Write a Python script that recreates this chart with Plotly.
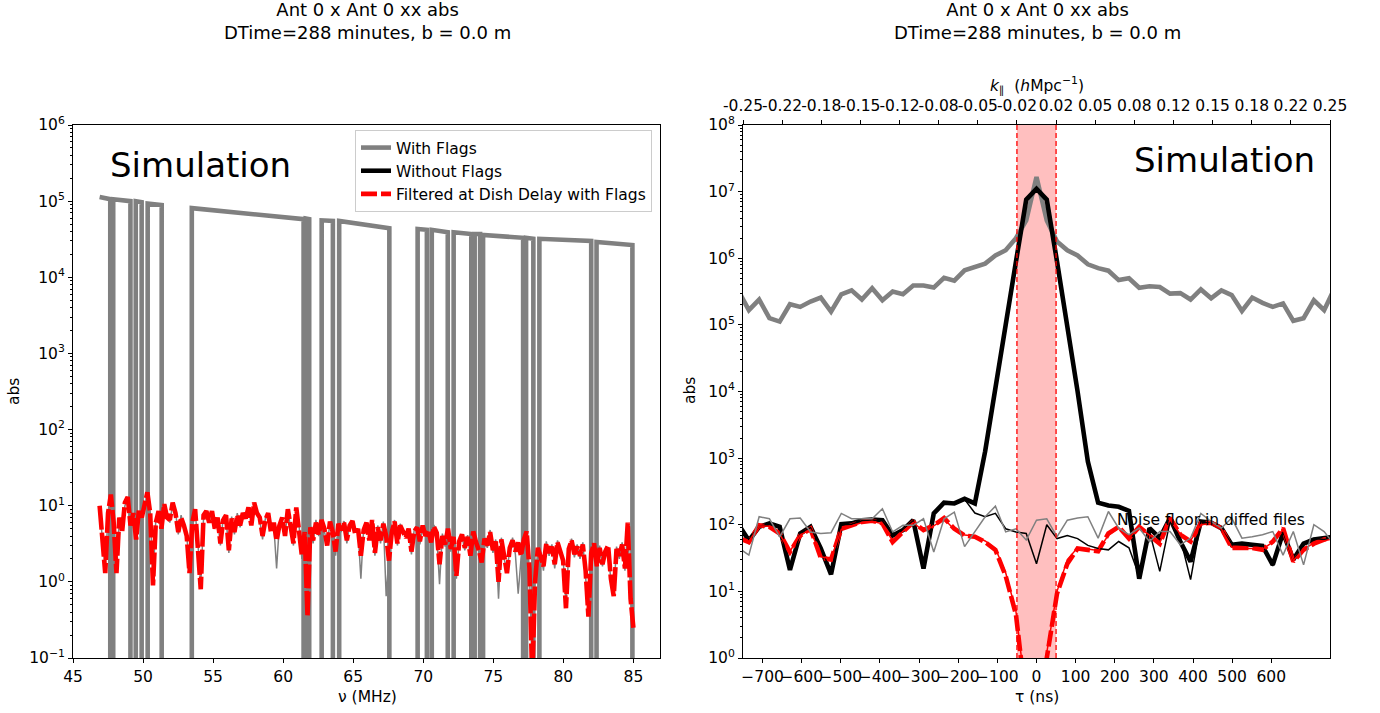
import numpy as np
import plotly.graph_objects as go

# ---------------- left panel: visibility amplitude vs frequency ----------------
# Unflagged stretches of the band (MHz) with the amplitude at each end.
seg_start = [46.90, 47.87, 49.48, 50.33, 53.48, 61.62, 62.75, 64.00, 69.60, 70.61,
             72.17, 73.67, 74.27, 77.34, 78.29, 82.37]
seg_end = [47.66, 49.10, 49.90, 51.33, 61.46, 61.86, 63.55, 67.58, 70.26, 71.75,
           73.43, 74.06, 77.13, 77.86, 81.99, 84.93]
amp_start = [1.13e5, 1.06e5, 1.0e5, 9.3e4, 8.1e4, 5.9e4, 5.6e4, 5.5e4, 4.3e4, 4.2e4,
             3.9e4, 3.7e4, 3.6e4, 3.3e4, 3.2e4, 2.9e4]
amp_end = [1.06e5, 1.0e5, 9.7e4, 8.9e4, 5.8e4, 5.8e4, 5.5e4, 4.4e4, 4.2e4, 3.9e4,
           3.7e4, 3.7e4, 3.3e4, 3.2e4, 3.0e4, 2.65e4]
flagged_value = 1e-3  # flagged channels are zeroed; this sits below the axis floor

freq_start, freq_stop, n_chan = 46.9, 85.0, 191

# Filtered spectrum (with flags), one value per channel
filtered_spec = [
    10, 3.2, 1.3, 8, 14, 6, 1.3, 7, 4.5, 11,
    13, 5.5, 8, 3.6, 9, 7, 10, 15, 8, 0.9,
    6, 8.5, 5, 10.5, 7, 6.5, 11, 8, 4.5, 7,
    5.5, 4, 1.3, 6, 9, 3, 0.8, 7.5, 8.5, 6,
    8.5, 5, 7, 3.2, 6.5, 7.5, 2.6, 6.8, 4.5, 7.5,
    5.5, 8, 6.8, 9.5, 5.5, 11, 8, 7, 4, 6.5,
    8, 4.5, 6, 3.5, 5.5, 7, 4, 9, 5, 3.2,
    9.5, 5, 2.2, 4.5, 0.35, 5.2, 3.5, 6, 4.2, 6.5,
    5, 3, 6.2, 4.5, 2.5, 5.8, 4.8, 6, 3.5, 5.5,
    6.3, 4.2, 5, 2.2, 4.8, 6, 3.5, 6.5, 2.4, 5.2,
    3.5, 5.8, 4, 1.9, 4.5, 6.2, 3.2, 5.5, 4.6, 3.8,
    5, 2.5, 4.6, 5.2, 3.4, 5.5, 4, 4.8, 3.3, 5.3,
    4.4, 1.7, 4, 3.1, 5, 2.7, 3.9, 1.2, 3.4, 4.2,
    2.8, 3.9, 2.2, 4.6, 3.3, 2.6, 1.8, 3.7, 3, 4.5,
    2.6, 3.4, 1.0, 3.6, 2.2, 1.3, 2.8, 3.5, 2.5, 3.3,
    2.2, 3.6, 4.6, 1.5, 0.05, 1.0, 2.8, 2.2, 1.6, 3.2,
    2.4, 2.9, 1.7, 3.3, 2.6, 1.9, 0.45, 2.7, 3.5, 2.3,
    2.9, 2.2, 3.1, 1.4, 0.35, 2.4, 3.2, 1.6, 2.8, 1.7,
    2.5, 3.0, 1.1, 0.65, 2.7, 2.2, 3.1, 1.5, 6.0, 0.6, 0.25]

# Noise spectrum from the differenced files (with flags)
diffed_spec = [
    9, 3.5, 1.5, 7.5, 13, 6.5, 1.4, 6.5, 4.8, 10,
    12, 5.8, 7.5, 3.4, 8.5, 7.5, 9.5, 14, 8.5, 1.0,
    6.5, 8, 4.6, 10, 7.5, 6, 10.5, 8.5, 4.2, 7.5,
    5.2, 4.2, 1.4, 6.5, 8.5, 3.2, 0.9, 7, 8, 6.5,
    8, 5.2, 6.5, 3.0, 7, 7, 2.4, 7.2, 4.2, 8,
    5.2, 7.5, 7.2, 9, 5.8, 10, 8.5, 6.5, 3.6, 6.8,
    7.5, 4.8, 5.5, 1.5, 5.8, 6.5, 4.2, 8.5, 5.2, 3.0,
    9, 5.5, 2.0, 4.8, 0.4, 5.5, 3.2, 6.5, 4.0, 6.8,
    4.6, 3.2, 5.8, 4.8, 2.2, 6.2, 4.5, 6.3, 3.2, 5.8,
    6.0, 4.5, 4.6, 1.1, 5.2, 5.6, 3.8, 6.2, 2.2, 5.5,
    3.2, 6.2, 0.65, 2.1, 4.2, 6.5, 3.0, 5.8, 4.3, 4.0,
    4.6, 2.3, 4.9, 5.5, 3.1, 5.2, 4.3, 4.5, 3.0, 5.6,
    4.2, 0.93, 4.3, 2.9, 5.3, 2.5, 4.1, 1.1, 3.6, 4.0,
    2.6, 4.1, 2.0, 4.9, 3.1, 2.8, 1.6, 3.9, 2.8, 4.8,
    2.4, 3.6, 0.6, 3.8, 2.0, 1.4, 2.6, 3.8, 2.3, 0.7,
    2.0, 3.8, 4.3, 1.4, 0.06, 1.1, 2.6, 2.4, 1.4, 3.4,
    2.2, 3.1, 1.5, 3.5, 2.4, 2.0, 0.5, 2.5, 3.7, 2.1,
    3.1, 2.0, 3.3, 1.3, 0.4, 2.6, 3.0, 1.5, 3.0, 1.6,
    2.7, 2.8, 1.0, 0.7, 2.9, 2.0, 3.3, 1.4, 5.5, 0.65, 0.3]

# ---------------- right panel: delay spectrum ----------------
delay_step_ns = 26.25
delay_index = list(range(-29, 30))
filter_delay_ns = 50.0  # dish-delay filter half width
tau_range = 750.0

with_flags_dly = [
    3.2e5, 1.66e5, 2.4e5, 1.26e5, 1.12e5, 2.04e5, 1.86e5, 2.24e5, 2.57e5, 1.58e5,
    2.88e5, 3.3e5, 2.4e5, 3.55e5, 2.34e5, 3.16e5, 2.88e5, 3.9e5, 3.9e5, 3.63e5,
    5.1e5, 4.6e5, 6.6e5, 7.4e5, 8.3e5, 1.1e6, 1.32e6, 2.0e6, 3.7e6, 1.66e7,
    3.7e6, 1.78e6, 1.32e6, 1.1e6, 8.1e5, 7.1e5, 6.5e5, 4.7e5, 5.0e5, 3.6e5,
    3.8e5, 3.7e5, 2.95e5, 3.0e5, 2.4e5, 3.4e5, 2.5e5, 3.3e5, 2.8e5, 1.62e5,
    2.57e5, 2.14e5, 1.86e5, 2.1e5, 1.15e5, 1.26e5, 2.34e5, 1.66e5, 3.5e5]

without_flags_dly = [
    100, 58, 93, 105, 93, 21, 74, 93, 44, 18,
    102, 105, 117, 120, 117, 69, 83, 117, 22, 148,
    214, 209, 245, 209, 1260, 1.26e4, 1.0e5, 8.9e5, 7.6e6, 1.1e7,
    7.6e6, 8.9e5, 1.0e5, 1.0e4, 890, 214, 195, 186, 162, 15.5,
    89, 63, 126, 56, 28, 112, 107, 89, 50, 52,
    50, 48, 25, 76, 30, 52, 60, 63, 66]

filtered_dly = [
    63, 55, 98, 93, 74, 39, 69, 87, 32, 30,
    87, 98, 110, 115, 105, 55, 78, 110, 83, 98,
    126, 87, 69, 66, 55, 42, 17, 4.5, 0.2, 0.06,
    1.0, 9.3, 26, 44, 42, 40, 74, 93, 62, 93,
    69, 52, 126, 71, 56, 105, 107, 89, 45, 45,
    45, 42, 56, 89, 28, 42, 52, 60, 63]

# noise floors measured in the differenced files
noise_with_flags = [
    45, 35, 132, 123, 66, 123, 126, 78, 74, 76,
    148, 123, 123, 123, 174, 78, 98, 98, 123, 39,
    123, 155, 47, 78, 132, 190, 78, 87, 59, 117,
    123, 66, 117, 126, 132, 63, 158, 89, 71, 89,
    56, 79, 79, 50, 63, 148, 112, 89, 126, 63,
    66, 71, 79, 35, 79, 25, 100, 79, 50]

noise_without_flags = [
    98, 60, 95, 102, 90, 22, 76, 90, 46, 19,
    100, 102, 115, 118, 115, 70, 85, 115, 23, 145,
    210, 205, 240, 150, 132, 148, 87, 78, 74, 26,
    100, 62, 69, 62, 49, 44, 42, 56, 45, 17,
    79, 20, 112, 63, 15, 112, 104, 86, 52, 50,
    48, 50, 24, 78, 29, 50, 62, 60, 64]

noise_filtered = [
    62, 56, 96, 95, 72, 40, 70, 85, 33, 31,
    85, 96, 108, 113, 103, 57, 80, 108, 80, 96,
    122, 85, 70, 68, 57, 44, 19, 5.0, 0.25, 0.07,
    1.2, 10, 30, 45, 43, 41, 70, 90, 64, 90,
    70, 54, 120, 72, 58, 100, 104, 86, 46, 44,
    44, 43, 55, 86, 29, 43, 53, 58, 62]

k_par_labels = ["-0.25", "-0.22", "-0.18", "-0.15", "-0.12", "-0.08", "-0.05", "-0.02",
                "0.02", "0.05", "0.08", "0.12", "0.15", "0.18", "0.22", "0.25"]

title_text = "Ant 0 x Ant 0 xx abs<br>DTime=288 minutes, b = 0.0 m"

# ---------------- build traces ----------------
freqs = np.linspace(freq_start, freq_stop, n_chan)
tau = np.array(delay_index) * delay_step_ns

# amplitude with flags: drops to zero at every flagged stretch
fx, fy = [], []
for i, (s, e, a0, a1) in enumerate(zip(seg_start, seg_end, amp_start, amp_end)):
    if i > 0:
        fx.append(s)
        fy.append(flagged_value)
    fx += [s, e, e]
    fy += [a0, a1, flagged_value]
fx.append(freq_stop)
fy.append(flagged_value)

FONT = "DejaVu Sans"
FS = 15.5
GRAY = "#808080"
THICK = 4.6
THIN = 1.5
RED_DASH = "16px,4px"

fig = go.Figure()

fig.add_trace(go.Scatter(x=fx, y=fy, mode="lines", line=dict(color=GRAY, width=THICK),
                         xaxis="x", yaxis="y", showlegend=False, hoverinfo="skip"))
fig.add_trace(go.Scatter(x=freqs, y=diffed_spec, mode="lines",
                         line=dict(color=GRAY, width=THIN),
                         xaxis="x", yaxis="y", showlegend=False))
fig.add_trace(go.Scatter(x=freqs, y=filtered_spec, mode="lines",
                         line=dict(color="red", width=THICK, dash="24px,3px"),
                         xaxis="x", yaxis="y", showlegend=False))

# delay spectra
fig.add_trace(go.Scatter(x=tau, y=with_flags_dly, mode="lines", name="With Flags",
                         line=dict(color=GRAY, width=THICK), xaxis="x2", yaxis="y2"))
fig.add_trace(go.Scatter(x=tau, y=without_flags_dly, mode="lines", name="Without Flags",
                         line=dict(color="black", width=THICK), xaxis="x2", yaxis="y2"))
fig.add_trace(go.Scatter(x=tau, y=filtered_dly, mode="lines",
                         name="Filtered at Dish Delay with Flags",
                         line=dict(color="red", width=THICK, dash=RED_DASH),
                         xaxis="x2", yaxis="y2"))
# the gray noise floor is placed on the top (k_parallel) axis, which shares the tau range
fig.add_trace(go.Scatter(x=tau, y=noise_with_flags, mode="lines",
                         line=dict(color=GRAY, width=THIN), xaxis="x3", yaxis="y2",
                         showlegend=False))
fig.add_trace(go.Scatter(x=tau, y=noise_without_flags, mode="lines",
                         line=dict(color="black", width=THIN), xaxis="x2", yaxis="y2",
                         showlegend=False))
fig.add_trace(go.Scatter(x=tau, y=noise_filtered, mode="lines",
                         line=dict(color="red", width=THIN), xaxis="x2", yaxis="y2",
                         showlegend=False))


def log_ticks(lo, hi):
    major = [10.0 ** e for e in range(lo, hi + 1)]
    text = ["10<sup>%s</sup>" % (str(e) if e >= 0 else "\u2212" + str(-e)) for e in range(lo, hi + 1)]
    minor = [m * 10.0 ** e for e in range(lo, hi) for m in range(2, 10)]
    return major, text, minor


ly_major, ly_text, ly_minor = log_ticks(-1, 6)
ry_major, ry_text, ry_minor = log_ticks(0, 8)

tick_font = dict(family=FONT, size=FS, color="black")
axis_common = dict(showgrid=False, zeroline=False, showline=True, linecolor="black",
                   linewidth=1, ticks="outside", ticklen=4, tickcolor="black",
                   tickfont=tick_font, automargin=False, tickangle=0)

left_dom = [73 / 1380, 660 / 1380]
right_dom = [743 / 1380, 1330 / 1380]
y_dom = [1 - 658 / 713, 1 - 125 / 713]

fig.update_layout(
    width=1380, height=713,
    margin=dict(l=0, r=0, t=0, b=0, autoexpand=False),
    paper_bgcolor="white", plot_bgcolor="white",
    font=dict(family=FONT, size=FS, color="black"),
    xaxis=dict(domain=left_dom, anchor="y", range=[45, 86.9], mirror=True,
               tickvals=list(range(45, 90, 5)), **axis_common),
    yaxis=dict(domain=y_dom, anchor="x", type="log", range=[-1, 6], mirror=True,
               tickvals=ly_major, ticktext=ly_text,
               minor=dict(tickvals=ly_minor, ticks="outside", ticklen=2, tickcolor="black"),
               **axis_common),
    xaxis2=dict(domain=right_dom, anchor="y2", range=[-tau_range, tau_range], mirror=True,
                tickvals=list(range(-700, 700, 100)),
                ticktext=[("\u2212" + str(-v)) if v < 0 else str(v) for v in range(-700, 700, 100)],
                **axis_common),
    xaxis3=dict(overlaying="x2", anchor="y2", side="top", range=[-tau_range, tau_range],
                tickvals=list(np.linspace(-tau_range, tau_range, len(k_par_labels))),
                ticktext=k_par_labels, ticklabelstandoff=3, **axis_common),
    yaxis2=dict(domain=y_dom, anchor="x2", type="log", range=[0, 8], mirror=True,
                tickvals=ry_major, ticktext=ry_text,
                minor=dict(tickvals=ry_minor, ticks="outside", ticklen=2, tickcolor="black"),
                **axis_common),
    legend=dict(x=652 / 1380, xanchor="right", y=1 - 130 / 713, yanchor="top",
                bgcolor="white", bordercolor="#cccccc", borderwidth=1,
                font=dict(family=FONT, size=FS)),
)

# dish-delay filter window
fig.add_shape(type="rect", xref="x2", yref="y2 domain", x0=-filter_delay_ns, x1=filter_delay_ns,
              y0=0, y1=1, fillcolor="rgba(255,0,0,0.25)", line=dict(width=0), layer="below")
for edge in (-filter_delay_ns, filter_delay_ns):
    fig.add_shape(type="line", xref="x2", yref="y2 domain", x0=edge, x1=edge, y0=0, y1=1,
                  line=dict(color="red", width=1.3, dash="5px,3px"), layer="above")


def paper_text(text, px, py, size=FS, **kw):
    return dict(text=text, xref="paper", yref="paper", x=px / 1380, y=1 - py / 713,
                showarrow=False, font=dict(family=FONT, size=size), **kw)


annotations = [
    paper_text(title_text, 367, 0, size=18, xanchor="center", yanchor="top", yshift=3),
    paper_text(title_text, 1037, 0, size=18, xanchor="center", yanchor="top", yshift=3),
    paper_text("Simulation", 108, 165, size=34, xanchor="left", yanchor="middle"),
    paper_text("Simulation", 1317, 160, size=34, xanchor="right", yanchor="middle"),
    paper_text("\u03bd (MHz)", 367, 697, xanchor="center", yanchor="middle"),
    paper_text("\u03c4 (ns)", 1037, 697, xanchor="center", yanchor="middle"),
    paper_text("abs", 14, 391, xanchor="center", yanchor="middle", textangle=-90),
    paper_text("abs", 690, 391, xanchor="center", yanchor="middle", textangle=-90),
    paper_text("<i>k</i><sub>\u2225</sub>  (<i>h</i>Mpc<sup>\u22121</sup>)", 1037, 85,
               xanchor="center", yanchor="middle"),
    dict(text="Noise floor in diffed files", xref="x2", yref="y2", x=200, y=2.07,
         xanchor="left", yanchor="middle", showarrow=False, font=dict(family=FONT, size=FS)),
]
fig.update_layout(annotations=annotations)

fig.write_html("out.html")
